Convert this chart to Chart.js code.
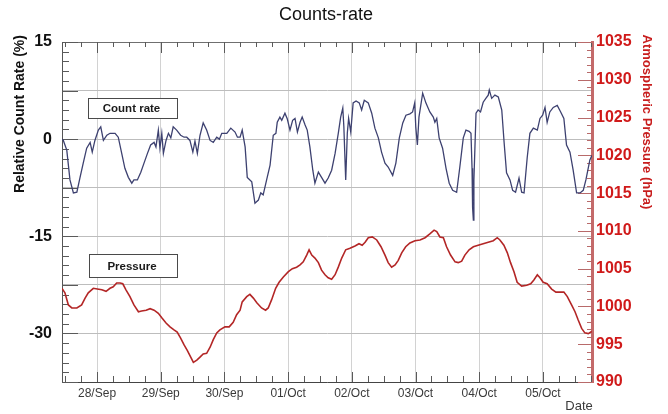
<!DOCTYPE html>
<html>
<head>
<meta charset="utf-8">
<title>Counts-rate</title>
<script src="https://cdn.jsdelivr.net/npm/chart.js@4.4.1/dist/chart.umd.min.js"></script>
<style>
  html, body { margin: 0; padding: 0; background: #ffffff; }
  #wrap { width: 668px; height: 414px; }
</style>
</head>
<body>
<div id="wrap"><canvas id="chart" width="668" height="414"></canvas></div>
<script>
// Time axis: hours since 27/Sep 00:00; day labels sit at midnight of each day.
const dayLabels = ['28/Sep', '29/Sep', '30/Sep', '01/Oct', '02/Oct', '03/Oct', '04/Oct', '05/Oct'];

// Relative count rate (%)
const countHours = [
  10.8, 11.3, 12.6, 13.8, 15.1, 16.4, 17.6, 18.8, 20.1, 21.4,
  22.2, 23.2, 24.5, 25.4, 26.4, 27.7, 28.9, 30.8, 32.0, 33.3,
  34.5, 35.8, 37.1, 37.9, 39.2, 40.5, 41.7, 43.0, 44.2, 45.5,
  46.2, 47.1, 47.7, 48.4, 49.0, 50.0, 50.9, 51.8, 52.7, 54.0,
  55.5, 56.8, 57.8, 59.0, 60.1, 60.9, 61.8, 62.8, 64.0, 65.3,
  66.6, 67.8, 69.1, 70.1, 71.0, 72.9, 74.4, 76.0, 76.9, 77.9,
  78.7, 79.8, 80.6, 82.3, 83.5, 84.8, 85.7, 86.6, 87.9, 89.2,
  90.4, 91.4, 91.9, 92.9, 93.6, 94.8, 95.7, 96.7, 97.7, 98.6,
  99.5, 100.5, 101.3, 102.4, 103.2, 104.2, 105.3, 106.1, 107.4, 108.6,
  109.9, 111.1, 112.4, 113.7, 114.9, 115.8, 116.6, 117.0, 117.7, 118.3,
  118.8, 119.6, 120.5, 121.6, 122.8, 123.7, 124.7, 126.2, 127.5, 128.7,
  130.0, 131.2, 132.5, 133.7, 135.4, 136.6, 137.9, 139.2, 140.4, 141.9,
  142.9, 143.7, 144.1, 144.7, 145.3, 146.7, 147.9, 149.4, 150.7, 151.3,
  152.0, 152.9, 154.2, 155.5, 156.7, 158.0, 159.5, 160.7, 162.0, 163.0,
  164.2, 164.9, 165.3, 165.5, 165.8, 166.0, 166.8, 167.6, 168.5, 169.5,
  170.5, 171.4, 171.8, 172.7, 173.9, 175.2, 176.5, 177.4, 178.3, 179.6,
  180.6, 181.7, 183.0, 184.0, 184.9, 186.1, 187.1, 188.4, 189.9, 190.9,
  191.9, 192.8, 193.6, 194.6, 195.9, 197.4, 198.7, 199.9, 200.9, 202.2,
  203.4, 204.7, 206.0, 207.2, 208.2, 209.7, 210.5
];
const countRate = [
  0.0, -0.2, -1.7, -6.3, -8.3, -8.2, -5.9, -3.7, -1.4, -0.5,
  -2.0, -0.2, 1.4, 1.9, -0.2, 0.6, 0.9, 0.9, 0.3, -2.2,
  -4.5, -5.9, -6.8, -6.3, -6.3, -5.1, -3.7, -2.2, -0.9, -0.5,
  -1.2, 1.4, -1.4, 0.9, -2.2, -0.2, 0.9, 0.2, 1.9, 1.4,
  0.6, 0.3, 0.3, -0.2, -2.0, -0.3, -2.2, 0.6, 2.5, 1.4,
  -0.2, -0.5, 0.3, 0.0, 0.9, 0.9, 1.7, 1.1, 0.3, 0.3,
  1.4, -1.2, -5.9, -6.6, -9.9, -9.4, -8.3, -8.6, -6.3, -4.0,
  0.6, 0.9, 2.6, 3.4, 2.9, 4.0, 3.1, 1.4, 2.9, 3.2,
  1.1, 2.6, 3.4, 2.2, 1.4, -1.2, -4.8, -6.8, -5.1, -5.9,
  -6.8, -6.0, -4.8, -2.2, 0.9, 3.4, 4.8, 1.9, -6.3, 0.9,
  3.2, 1.1, 5.6, 5.9, 5.6, 4.5, 6.0, 5.6, 4.0, 1.7,
  0.2, -2.0, -3.7, -4.3, -5.6, -3.7, 0.2, 2.5, 3.7, 3.9,
  4.2, 5.6, 1.9, -0.9, 3.4, 7.1, 5.6, 4.2, 3.4, 2.6,
  3.2, 0.2, -1.4, -4.5, -6.8, -7.9, -8.2, -4.3, 0.2, 1.4,
  1.2, 0.9, -4.5, -10.5, -12.5, -6.3, 4.0, 4.5, 4.2, 5.7,
  6.3, 6.8, 7.6, 6.3, 6.8, 6.5, 4.5, -0.6, -5.2, -6.3,
  -7.9, -8.2, -6.0, -8.2, -8.3, -2.8, 0.9, 1.7, 1.4, 3.2,
  3.7, 4.9, 2.6, 4.2, 4.9, 5.2, 4.2, 3.2, -0.9, -2.0,
  -4.8, -8.3, -8.3, -7.9, -6.3, -3.2, -2.5
];

// Atmospheric pressure (hPa)
const pressureHours = [
  10.8, 11.9, 13.2, 14.5, 16.4, 18.2, 19.5, 20.7, 22.6, 24.1,
  25.8, 27.4, 28.9, 30.1, 31.4, 32.7, 33.7, 34.9, 36.4, 37.9,
  39.6, 40.8, 42.5, 44.0, 45.5, 47.1, 48.4, 50.0, 51.5, 53.0,
  54.2, 55.5, 56.8, 58.0, 59.3, 60.3, 61.6, 62.8, 64.0, 65.3,
  66.6, 67.8, 69.1, 70.3, 72.2, 73.8, 75.3, 76.6, 77.9, 78.7,
  80.4, 81.6, 82.9, 84.2, 86.0, 87.5, 88.5, 89.8, 91.3, 92.6,
  94.2, 96.1, 97.6, 99.2, 100.5, 101.7, 103.0, 103.9, 104.9, 106.1,
  107.4, 108.6, 109.9, 111.1, 112.4, 113.7, 114.9, 116.2, 117.7, 119.3,
  121.2, 122.7, 123.9, 125.0, 126.2, 127.7, 129.4, 131.0, 132.5, 133.7,
  135.0, 136.3, 137.5, 138.8, 140.3, 141.9, 143.8, 145.7, 147.6, 149.4,
  151.0, 152.0, 153.2, 154.5, 155.7, 157.2, 158.9, 160.1, 161.4, 162.6,
  164.2, 165.8, 167.6, 169.5, 171.4, 173.3, 174.8, 175.8, 177.3, 178.6,
  179.8, 181.1, 182.3, 184.0, 185.9, 187.4, 188.6, 189.9, 190.9, 192.1,
  193.6, 195.3, 196.9, 198.4, 199.9, 201.2, 202.8, 204.1, 205.3, 206.6,
  207.8, 209.1, 210.4
];
const pressure = [
  1002.4, 1001.8, 1000.2, 999.8, 999.8, 1000.2, 1001.1, 1001.8, 1002.4, 1002.3,
  1002.2, 1002.0, 1002.4, 1002.6, 1003.1, 1003.1, 1003.0, 1002.2, 1001.3, 1000.2,
  999.3, 999.4, 999.5, 999.7, 999.5, 999.1, 998.5, 997.8, 997.3, 996.9,
  996.6, 995.8, 994.9, 994.2, 993.3, 992.6, 992.9, 993.3, 993.7, 993.8,
  994.6, 995.6, 996.5, 996.9, 997.3, 997.3, 997.9, 998.9, 999.5, 1000.6,
  1001.3, 1001.6, 1001.1, 1000.5, 999.8, 999.5, 999.8, 1000.9, 1002.4, 1003.2,
  1003.9, 1004.6, 1005.0, 1005.2, 1005.5, 1005.9, 1006.8, 1007.5, 1006.8, 1006.4,
  1005.8, 1004.8, 1004.2, 1003.8, 1003.6, 1004.2, 1005.2, 1006.4, 1007.5, 1007.7,
  1008.0, 1008.3, 1008.1, 1008.5, 1009.1, 1009.2, 1008.8, 1007.9, 1006.8, 1005.8,
  1005.2, 1005.5, 1006.1, 1007.1, 1007.9, 1008.4, 1008.7, 1008.8, 1009.1, 1009.6,
  1010.1, 1009.9, 1009.2, 1009.1, 1007.9, 1006.8, 1005.9, 1005.8, 1006.0, 1006.8,
  1007.5, 1007.9, 1008.1, 1008.3, 1008.5, 1008.7, 1009.1, 1008.8, 1008.1, 1007.1,
  1005.8, 1004.6, 1003.2, 1002.7, 1002.8, 1003.0, 1003.5, 1004.2, 1003.8, 1003.2,
  1003.0, 1002.3, 1001.9, 1001.9, 1001.9, 1001.3, 1000.2, 999.3, 998.2, 997.1,
  996.5, 996.4, 996.7
];

// Axis ranges and labelled ticks
const timeRange = [10.8, 210.5];
const countRange = [-37.5, 15];
const countGridStep = 7.5;
const countLabelled = [15, 0, -15, -30];
const pressureRange = [990, 1035];

const FONT = "'Liberation Sans', Arial, Helvetica, sans-serif";
const pairs = (xs, ys) => xs.map((x, i) => ({ x: x, y: ys[i] }));

// Inner tick marks, top frame line, titles and the two labelled boxes
const framePlugin = {
  id: 'frameDecor',
  beforeDatasetsDraw(chart) {
    const ctx = chart.ctx;
    const a = chart.chartArea;
    const xs = chart.scales.x, yl = chart.scales.y, yr = chart.scales.y1;
    ctx.save();
    ctx.lineWidth = 1;
    // top frame line
    ctx.strokeStyle = '#6f6f6f';
    ctx.beginPath();
    ctx.moveTo(a.left, a.top + 0.5);
    ctx.lineTo(a.right, a.top + 0.5);
    ctx.stroke();
    // time ticks every 6 h on top and bottom
    ctx.strokeStyle = '#5a5a5a';
    ctx.beginPath();
    for (let h = 12; h <= timeRange[1]; h += 6) {
      const px = Math.round(xs.getPixelForValue(h)) + 0.5;
      const major = h % 24 === 0;
      ctx.moveTo(px, a.bottom);
      ctx.lineTo(px, a.bottom - (major ? 10 : 6));
      ctx.moveTo(px, a.top);
      ctx.lineTo(px, a.top + (major ? 11 : 5));
    }
    ctx.stroke();
    // left axis ticks every 1.5 %
    ctx.beginPath();
    for (let v = countRange[0]; v <= countRange[1] + 1e-6; v += 1.5) {
      const py = Math.round(yl.getPixelForValue(v)) + 0.5;
      const major = Math.abs(v / countGridStep - Math.round(v / countGridStep)) < 1e-6;
      ctx.moveTo(a.left, py);
      ctx.lineTo(a.left + (major ? 16 : 7), py);
    }
    ctx.stroke();
    // right axis ticks every 1 hPa
    ctx.strokeStyle = '#b86a6a';
    ctx.beginPath();
    for (let p = pressureRange[0]; p <= pressureRange[1]; p += 1) {
      const py = Math.round(yr.getPixelForValue(p)) + 0.5;
      const major = p % 5 === 0;
      ctx.moveTo(a.right, py);
      ctx.lineTo(a.right - (major ? 14 : 5), py);
    }
    ctx.stroke();
    ctx.restore();
  },
  afterDraw(chart) {
    const ctx = chart.ctx;
    ctx.save();
    // main title
    ctx.fillStyle = '#111111';
    ctx.font = '18px ' + FONT;
    ctx.textAlign = 'center';
    ctx.textBaseline = 'middle';
    ctx.fillText('Counts-rate', 326, 15);
    // left axis title
    ctx.save();
    ctx.translate(20, 114);
    ctx.rotate(-Math.PI / 2);
    ctx.font = 'bold 14px ' + FONT;
    ctx.fillStyle = '#111111';
    ctx.fillText('Relative Count Rate (%)', 0, 0);
    ctx.restore();
    // right axis title
    ctx.save();
    ctx.translate(647, 122);
    ctx.rotate(Math.PI / 2);
    ctx.font = 'bold 13px ' + FONT;
    ctx.fillStyle = '#c81e1e';
    ctx.fillText('Atmospheric Pressure (hPa)', 0, 0);
    ctx.restore();
    // x axis title
    ctx.font = '13px ' + FONT;
    ctx.fillStyle = '#3a3a3a';
    ctx.fillText('Date', 579, 406);
    // series boxes
    const boxes = [
      { text: 'Count rate', x: 88, y: 98, w: 89, h: 20 },
      { text: 'Pressure', x: 89, y: 254, w: 88, h: 23 }
    ];
    boxes.forEach(b => {
      ctx.fillStyle = '#ffffff';
      ctx.fillRect(b.x, b.y, b.w, b.h);
      ctx.strokeStyle = '#4a4a4a';
      ctx.lineWidth = 1;
      ctx.strokeRect(b.x + 0.5, b.y + 0.5, b.w, b.h);
      ctx.fillStyle = '#1a1a1a';
      ctx.font = 'bold 11.5px ' + FONT;
      ctx.fillText(b.text, b.x + b.w / 2 - 1, b.y + b.h / 2 + 1);
    });
    ctx.restore();
  }
};

new Chart(document.getElementById('chart'), {
  type: 'line',
  data: {
    datasets: [
      {
        label: 'Count rate',
        data: pairs(countHours, countRate),
        yAxisID: 'y',
        borderColor: '#3d4170',
        borderWidth: 1.3,
        pointRadius: 0,
        tension: 0
      },
      {
        label: 'Pressure',
        data: pairs(pressureHours, pressure),
        yAxisID: 'y1',
        borderColor: '#b32626',
        borderWidth: 1.6,
        pointRadius: 0,
        tension: 0
      }
    ]
  },
  options: {
    responsive: false,
    animation: false,
    layout: { padding: { top: 42, left: 0, right: 0, bottom: 0 } },
    plugins: {
      legend: { display: false },
      tooltip: { enabled: false },
      title: { display: false }
    },
    scales: {
      x: {
        type: 'linear',
        min: timeRange[0],
        max: timeRange[1],
        afterBuildTicks(scale) {
          scale.ticks = dayLabels.map((_, i) => ({ value: 24 * (i + 1) }));
        },
        afterFit(scale) { scale.height = 32; },
        ticks: {
          autoSkip: false,
          maxRotation: 0,
          padding: 4,
          color: '#3a3a3a',
          font: { family: FONT, size: 12 },
          callback: (v, i) => dayLabels[i]
        },
        grid: { color: '#d2d2d2', lineWidth: 1, drawTicks: false },
        border: { display: true, color: '#444444', width: 1 }
      },
      y: {
        type: 'linear',
        position: 'left',
        min: countRange[0],
        max: countRange[1],
        afterBuildTicks(scale) {
          const t = [];
          for (let v = countRange[0]; v <= countRange[1] + 1e-6; v += countGridStep) t.push({ value: v });
          scale.ticks = t;
        },
        afterFit(scale) { scale.width = 62; },
        ticks: {
          autoSkip: false,
          padding: 10,
          color: '#111111',
          font: { family: FONT, size: 16, weight: 'bold' },
          callback: v => countLabelled.includes(v) ? String(v) : ''
        },
        grid: { color: '#bdbdbd', lineWidth: 1, drawTicks: false },
        border: { display: true, color: '#555555', width: 1 }
      },
      y1: {
        type: 'linear',
        position: 'right',
        min: pressureRange[0],
        max: pressureRange[1],
        afterFit(scale) { scale.width = 76; },
        ticks: {
          stepSize: 5,
          autoSkip: false,
          padding: 4,
          color: '#d01a1a',
          font: { family: FONT, size: 16, weight: 'bold' },
          callback: v => String(v)
        },
        grid: { drawOnChartArea: false, drawTicks: false },
        border: { display: true, color: '#c46a6a', width: 3 }
      }
    }
  },
  plugins: [framePlugin]
});
</script>
</body>
</html>
